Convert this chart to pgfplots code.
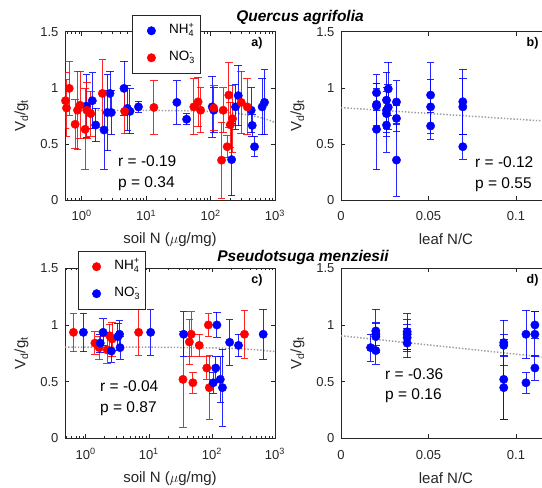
\documentclass[border=0pt]{standalone}
\usepackage{fontspec}
\setmainfont{Liberation Sans}
\usepackage{pgfplots}
\pgfplotsset{compat=1.18}
\definecolor{axgray}{gray}{0.15}
\definecolor{regray}{gray}{0.62}
\pgfplotsset{
  panel/.style={
    scale only axis, width=210pt,
    ymin=0, ymax=1.5, ytick={0,0.5,1,1.5}, yticklabels={0,0.5,1,1.5},
    tick align=inside, major tick length=4pt, minor tick length=2pt,
    axis line style={axgray, line width=0.6pt},
    every tick/.append style={axgray, line width=0.5pt},
    tick label style={font=\fontsize{13}{13}\selectfont, text=axgray},
    xticklabel style={anchor=base, yshift=-21pt},
    yticklabel style={xshift=-3pt},
    ylabel={V\textsubscript{d}/g\textsubscript{t}},
    ylabel style={font=\fontsize{15}{15}\selectfont, text=axgray, at={(axis description cs:-0.207,0.5)}, anchor=center},
    xlabel style={font=\fontsize{15}{15}\selectfont, text=axgray, anchor=center},
    legend cell align=left,
    legend style={draw=axgray, line width=0.5pt, font=\fontsize{13.5}{13.5}\selectfont,
      inner xsep=3pt, inner ysep=6.5pt, row sep=9pt, anchor=north west,
      nodes={inner sep=2pt, text height=9.5pt, text depth=4.5pt}},
    legend image code/.code={\path (0pt,0pt) (31pt,0pt); \draw[##1] plot coordinates {(15.5pt,0pt)};},
  },
  logpanel/.style={
    xmax=1000,
    xtick={1,10,100,1000},
    xticklabels={10\textsuperscript{0},10\textsuperscript{1},10\textsuperscript{2},10\textsuperscript{3}},
    minor xtick={0.5,0.6,0.7,0.8,0.9,2,3,4,5,6,7,8,9,20,30,40,50,60,70,80,90,200,300,400,500,600,700,800,900},
    xlabel={soil N ($\mu$g/mg)},
  },
  linpanel/.style={
    xmin=0, xmax=0.12, xtick={0,0.05,0.1}, xticklabels={0,0.05,0.1},
    xlabel={leaf N/C},
  },
  bl/.style={only marks, mark=*, mark size=4.2pt, color=blue, mark options={fill=blue, draw=blue},
    error bars/.cd, y dir=both, y explicit,
    error bar style={line width=0.9pt, opacity=0.85},
    error mark options={rotate=90, mark size=3.8pt, line width=0.9pt}},
  rd/.style={only marks, mark=*, mark size=4.2pt, color=red, mark options={fill=red, draw=red},
    error bars/.cd, y dir=both, y explicit,
    error bar style={line width=0.9pt, opacity=0.85},
    error mark options={rotate=90, mark size=3.8pt, line width=0.9pt}},
  reg/.style={regray, line width=1.5pt, dash pattern=on 1.4pt off 1.8pt, forget plot},
}
\newcommand{\scr}[1]{\hbox{\fontsize{9}{9}\selectfont #1}}
\newcommand{\nhf}{NH$^{\scr{+}}_{\scr{4}}$}
\newcommand{\nof}{NO$^{\scr{-}}_{\scr{3}}$}
\begin{document}
\begin{tikzpicture}
% ---------- panel a ----------
\begin{axis}[xmode=log, panel, logpanel, height=168.3pt, at={(65pt,288pt)}, anchor=south west,
  xmin=0.55, xlabel style={at={(axis description cs:0.5,-0.233)}},
  legend style={at={(axis description cs:0.321,1.099)}}]
\addplot[reg] coordinates {(1,0.80) (10,0.799) (50,0.795) (100,0.789) (200,0.778) (300,0.767) (400,0.756) (550,0.740) (700,0.723) (850,0.707) (1000,0.69)};
\addplot[bl] table[x=x,y=y,y error=e] {
x y e
1.18 0.837 0.28
1.46 0.885 0.25
1.65 0.668 0.15
2.22 0.624 0.35
2.50 0.780 0.34
2.75 0.950 0.20
2.88 0.780 0.20
4.53 0.995 0.24
5.10 0.817 0.20
5.60 0.790 0.20
7.60 0.830 0.05
30.0 0.870 0.195
42.5 0.720 0.05
106 0.830 0.27
112 0.800 0.20
212 0.360 0.32
244 0.830 0.20
269 0.930 0.27
427 0.800 0.20
443 0.665 0.10
481 0.475 0.09
632 0.830 0.25
687 0.870 0.29
};
\addlegendentry{\nhf}
\addplot[rd] table[x=x,y=y,y error=e] {
x y e
0.56 0.885 0.25
0.58 0.820 0.25
0.64 0.995 0.24
0.79 0.675 0.22
0.86 0.800 0.35
0.94 0.845 0.30
1.13 0.630 0.36
1.20 0.800 0.25
1.38 0.770 0.20
2.09 0.950 0.30
4.64 0.790 0.20
13.2 0.825 0.24
55 0.830 0.25
64 0.875 0.22
70 0.800 0.20
112 0.820 0.20
148 0.355 0.34
157 0.800 0.20
181 0.475 0.10
192 0.935 0.29
202 0.670 0.20
219 0.725 0.30
299 0.870 0.28
371 0.830 0.25
};
\addlegendentry{\nof}
\end{axis}
% ---------- panel b ----------
\begin{axis}[panel, linpanel, height=168.3pt, at={(341pt,288pt)}, anchor=south west,
  xlabel style={at={(axis description cs:0.5,-0.233)}}]
\addplot[reg] coordinates {(0,0.823) (0.12,0.70)};
\addplot[bl] table[x=x,y=y,y error=e] {
x y e
0.0203 0.956 0.16
0.0203 0.852 0.19
0.0203 0.837 0.20
0.0203 0.630 0.36
0.0260 0.890 0.25
0.0260 0.800 0.20
0.0260 0.770 0.20
0.0260 0.668 0.24
0.0270 0.990 0.24
0.0270 0.826 0.20
0.0317 0.873 0.19
0.0317 0.727 0.12
0.0317 0.356 0.32
0.0512 0.935 0.29
0.0512 0.830 0.24
0.0512 0.660 0.12
0.0696 0.876 0.29
0.0696 0.830 0.25
0.0696 0.475 0.11
};
\end{axis}
% ---------- panel c ----------
\begin{axis}[xmode=log, panel, logpanel, height=170pt, at={(65pt,49.7pt)}, anchor=south west,
  xmin=0.47, xlabel style={at={(axis description cs:0.5,-0.235)}},
  legend style={at={(axis description cs:0.060,1.102)}}]
\addplot[reg] coordinates {(0.47,0.805) (10,0.804) (100,0.798) (200,0.793) (400,0.785) (700,0.774) (1000,0.765)};
\addplot[rd] table[x=x,y=y,y error=e] {
x y e
0.64 0.935 0.17
1.40 0.840 0.10
1.64 0.800 0.10
2.20 0.780 0.12
2.40 0.905 0.10
2.63 0.876 0.15
6.90 0.935 0.20
34.8 0.520 0.42
44 0.850 0.20
47 0.918 0.20
50 0.490 0.09
63 0.820 0.10
83 0.620 0.10
88 1.000 0.10
91 0.447 0.28
328 0.918 0.21
};
\addlegendentry{\nhf}
\addplot[bl] table[x=x,y=y,y error=e] {
x y e
0.92 0.935 0.17
1.70 0.840 0.08
1.89 0.935 0.12
2.55 0.770 0.10
3.24 0.897 0.12
3.44 0.918 0.12
3.50 0.800 0.10
10.7 0.935 0.20
35.6 0.918 0.20
105 0.490 0.09
115 0.620 0.10
120 1.000 0.11
136 0.520 0.20
147 0.447 0.34
191 0.847 0.20
264 0.820 0.10
650 0.918 0.22
};
\addlegendentry{\nof}
\end{axis}
% ---------- panel d ----------
\begin{axis}[panel, linpanel, height=170pt, at={(341pt,49.7pt)}, anchor=south west,
  xlabel style={at={(axis description cs:0.5,-0.235)}}]
\addplot[reg] coordinates {(0,0.905) (0.12,0.71)};
\addplot[bl] table[x=x,y=y,y error=e] {
x y e
0.0169 0.800 0.12
0.0199 0.947 0.19
0.0199 0.918 0.10
0.0199 0.897 0.12
0.0199 0.774 0.12
0.0378 0.940 0.16
0.0378 0.918 0.13
0.0378 0.888 0.12
0.0378 0.840 0.13
0.0930 0.844 0.20
0.0930 0.820 0.10
0.0930 0.520 0.35
0.0930 0.447 0.28
0.1057 0.918 0.21
0.1057 0.490 0.09
0.1108 1.000 0.12
0.1108 0.918 0.20
0.1108 0.620 0.11
};
\end{axis}
% ---------- texts ----------
\node[font=\bfseries\itshape\fontsize{15.5}{15.5}\selectfont] at (300pt,471pt) {Quercus agrifolia};
\node[font=\bfseries\itshape\fontsize{15.5}{15.5}\selectfont] at (303pt,231pt) {Pseudotsuga menziesii};
\node[anchor=east, font=\bfseries\fontsize{12.5}{12.5}\selectfont] at (266pt,445pt) {a)};
\node[anchor=east, font=\bfseries\fontsize{12.5}{12.5}\selectfont] at (542pt,445pt) {b)};
\node[anchor=east, font=\bfseries\fontsize{12.5}{12.5}\selectfont] at (266pt,207.5pt) {c)};
\node[anchor=east, font=\bfseries\fontsize{12.5}{12.5}\selectfont] at (542pt,207.5pt) {d)};
\begin{scope}[every node/.style={anchor=base west, font=\fontsize{15.5}{15.5}\selectfont, inner sep=0pt}]
\node at (118pt,321.3pt) {r = -0.19};
\node at (118pt,300.7pt) {p = 0.34};
\node at (475pt,320pt) {r = -0.12};
\node at (475pt,299.7pt) {p = 0.55};
\node at (100pt,96.3pt) {r = -0.04};
\node at (100pt,75.3pt) {p = 0.87};
\node at (385pt,108.7pt) {r = -0.36};
\node at (385pt,88pt) {p = 0.16};
\end{scope}
\pgfresetboundingbox
\path[use as bounding box] (0pt,0pt) rectangle (542pt,488pt);
\end{tikzpicture}
\end{document}
